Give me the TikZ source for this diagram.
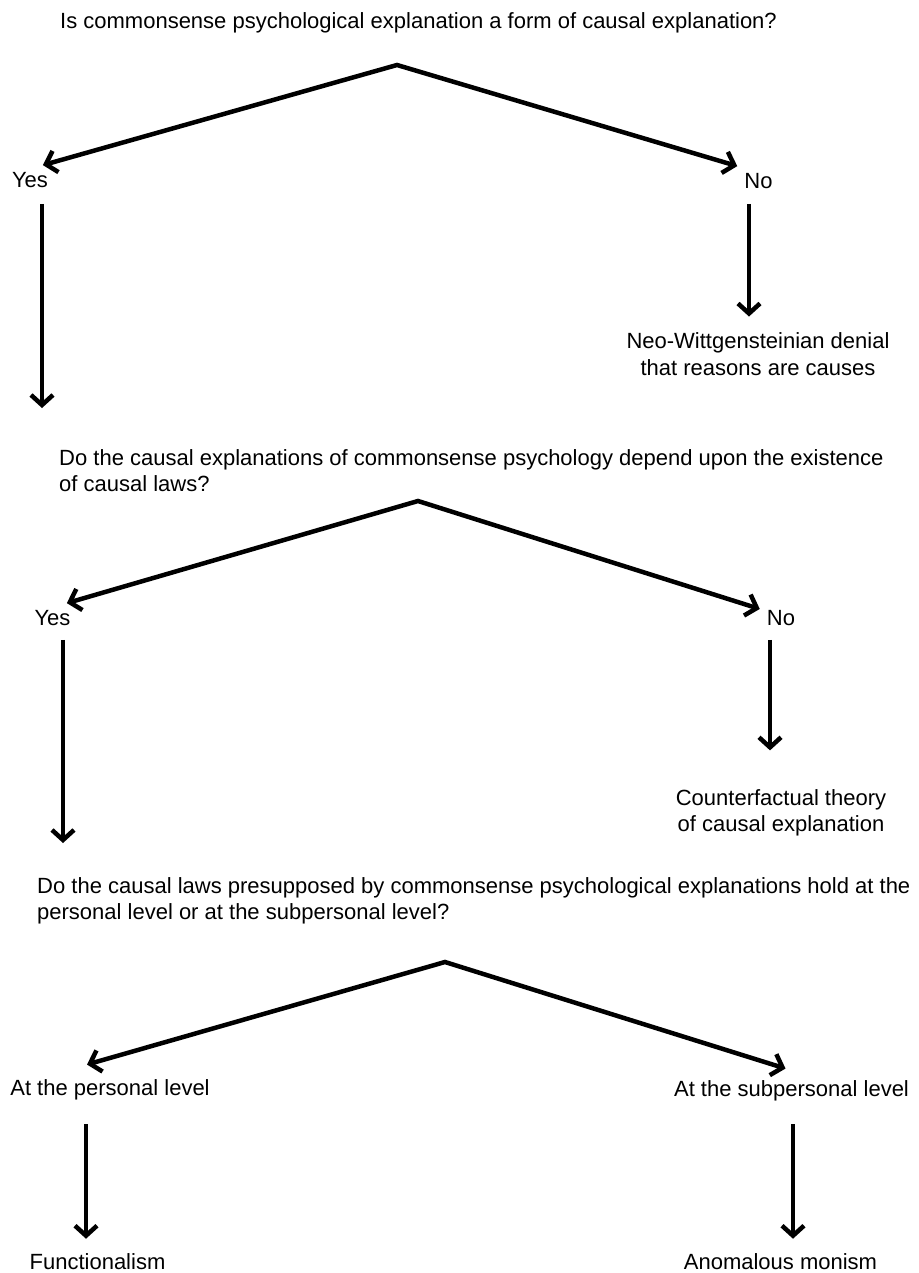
\documentclass[tikz,border=0pt]{standalone}
\usepackage{fontspec}
\setmainfont{Liberation Sans}
\usetikzlibrary{arrows.meta}

\begin{document}
\begin{tikzpicture}[x=1pt,y=-1pt,
  every node/.style={font=\fontsize{22}{26.4}\selectfont},
  ques/.style={anchor=north west, align=left, inner sep=0pt},
  ans/.style={inner sep=7pt, align=center},
  forkarrow/.style={line width=4.5pt, line join=miter, {Straight Barb[length=10pt,width=22pt]}-{Straight Barb[length=10pt,width=22pt]}},
  vline/.style={line width=4.5pt, -{Straight Barb[length=10pt,width=22pt]}}]
\useasboundingbox (0,0) rectangle (918,1273);
\node[ques](q1) at (60,12){Is commonsense psychological explanation a form of causal explanation?};
\node[ques](q2) at (59,449){Do the causal explanations of commonsense psychology depend upon the existence\\of causal laws?};
\node[ques](q3) at (37,877){Do the causal laws presupposed by commonsense psychological explanations hold at the\\personal level or at the subpersonal level?};
\coordinate (a1) at (397,65);
\coordinate (a2) at (418,501);
\coordinate (a3) at (445,962);
\node[ans](yes1) at (30,180){Yes};
\node[ans](no1) at (758.5,181){No};
\node[ans](neo) at (758,354){Neo-Wittgensteinian denial\\that reasons are causes};
\node[ans](yes2) at (52.5,618){Yes};
\node[ans](no2) at (781,618){No};
\node[ans](cf) at (781,813){Counterfactual theory\\of causal explanation};
\node[ans](pers) at (110,1090){At the personal level};
\node[ans](subp) at (791.5,1091){At the subpersonal level};
\node[ans](func) at (97.5,1262){Functionalism};
\node[ans](anom) at (780.5,1262){Anomalous monism};
\draw[forkarrow] (yes1.49) -- (a1) -- (no1.north west);
\draw[forkarrow] (yes2.46) -- (a2) -- (no2.157);
\draw[forkarrow] ([xshift=-23pt,yshift=8pt]pers.north) -- (a3) -- ([xshift=-6pt,yshift=5pt]subp.north);
\draw[vline, shorten <=9pt, shorten >=41pt] ([xshift=12pt]yes1.south) -- ([xshift=12pt]yes1.south |- q2.north);
\draw[vline, shorten <=8pt, shorten >=9pt] ([xshift=-9.5pt]no1.south) -- ([xshift=-9.5pt]no1.south |- neo.north);
\draw[vline, shorten <=7pt, shorten >=34pt] ([xshift=10.5pt]yes2.south) -- ([xshift=10.5pt]yes2.south |- q3.north);
\draw[vline, shorten <=7pt, shorten >=32pt] ([xshift=-11pt]no2.south) -- ([xshift=-11pt]no2.south |- cf.north);
\draw[vline, shorten <=17pt, shorten >=8pt] ([xshift=-24pt]pers.south) -- ([xshift=-24pt]pers.south |- func.north);
\draw[vline, shorten <=16pt, shorten >=8pt] ([xshift=1.5pt]subp.south) -- ([xshift=1.5pt]subp.south |- anom.north);
\end{tikzpicture}
\end{document}
